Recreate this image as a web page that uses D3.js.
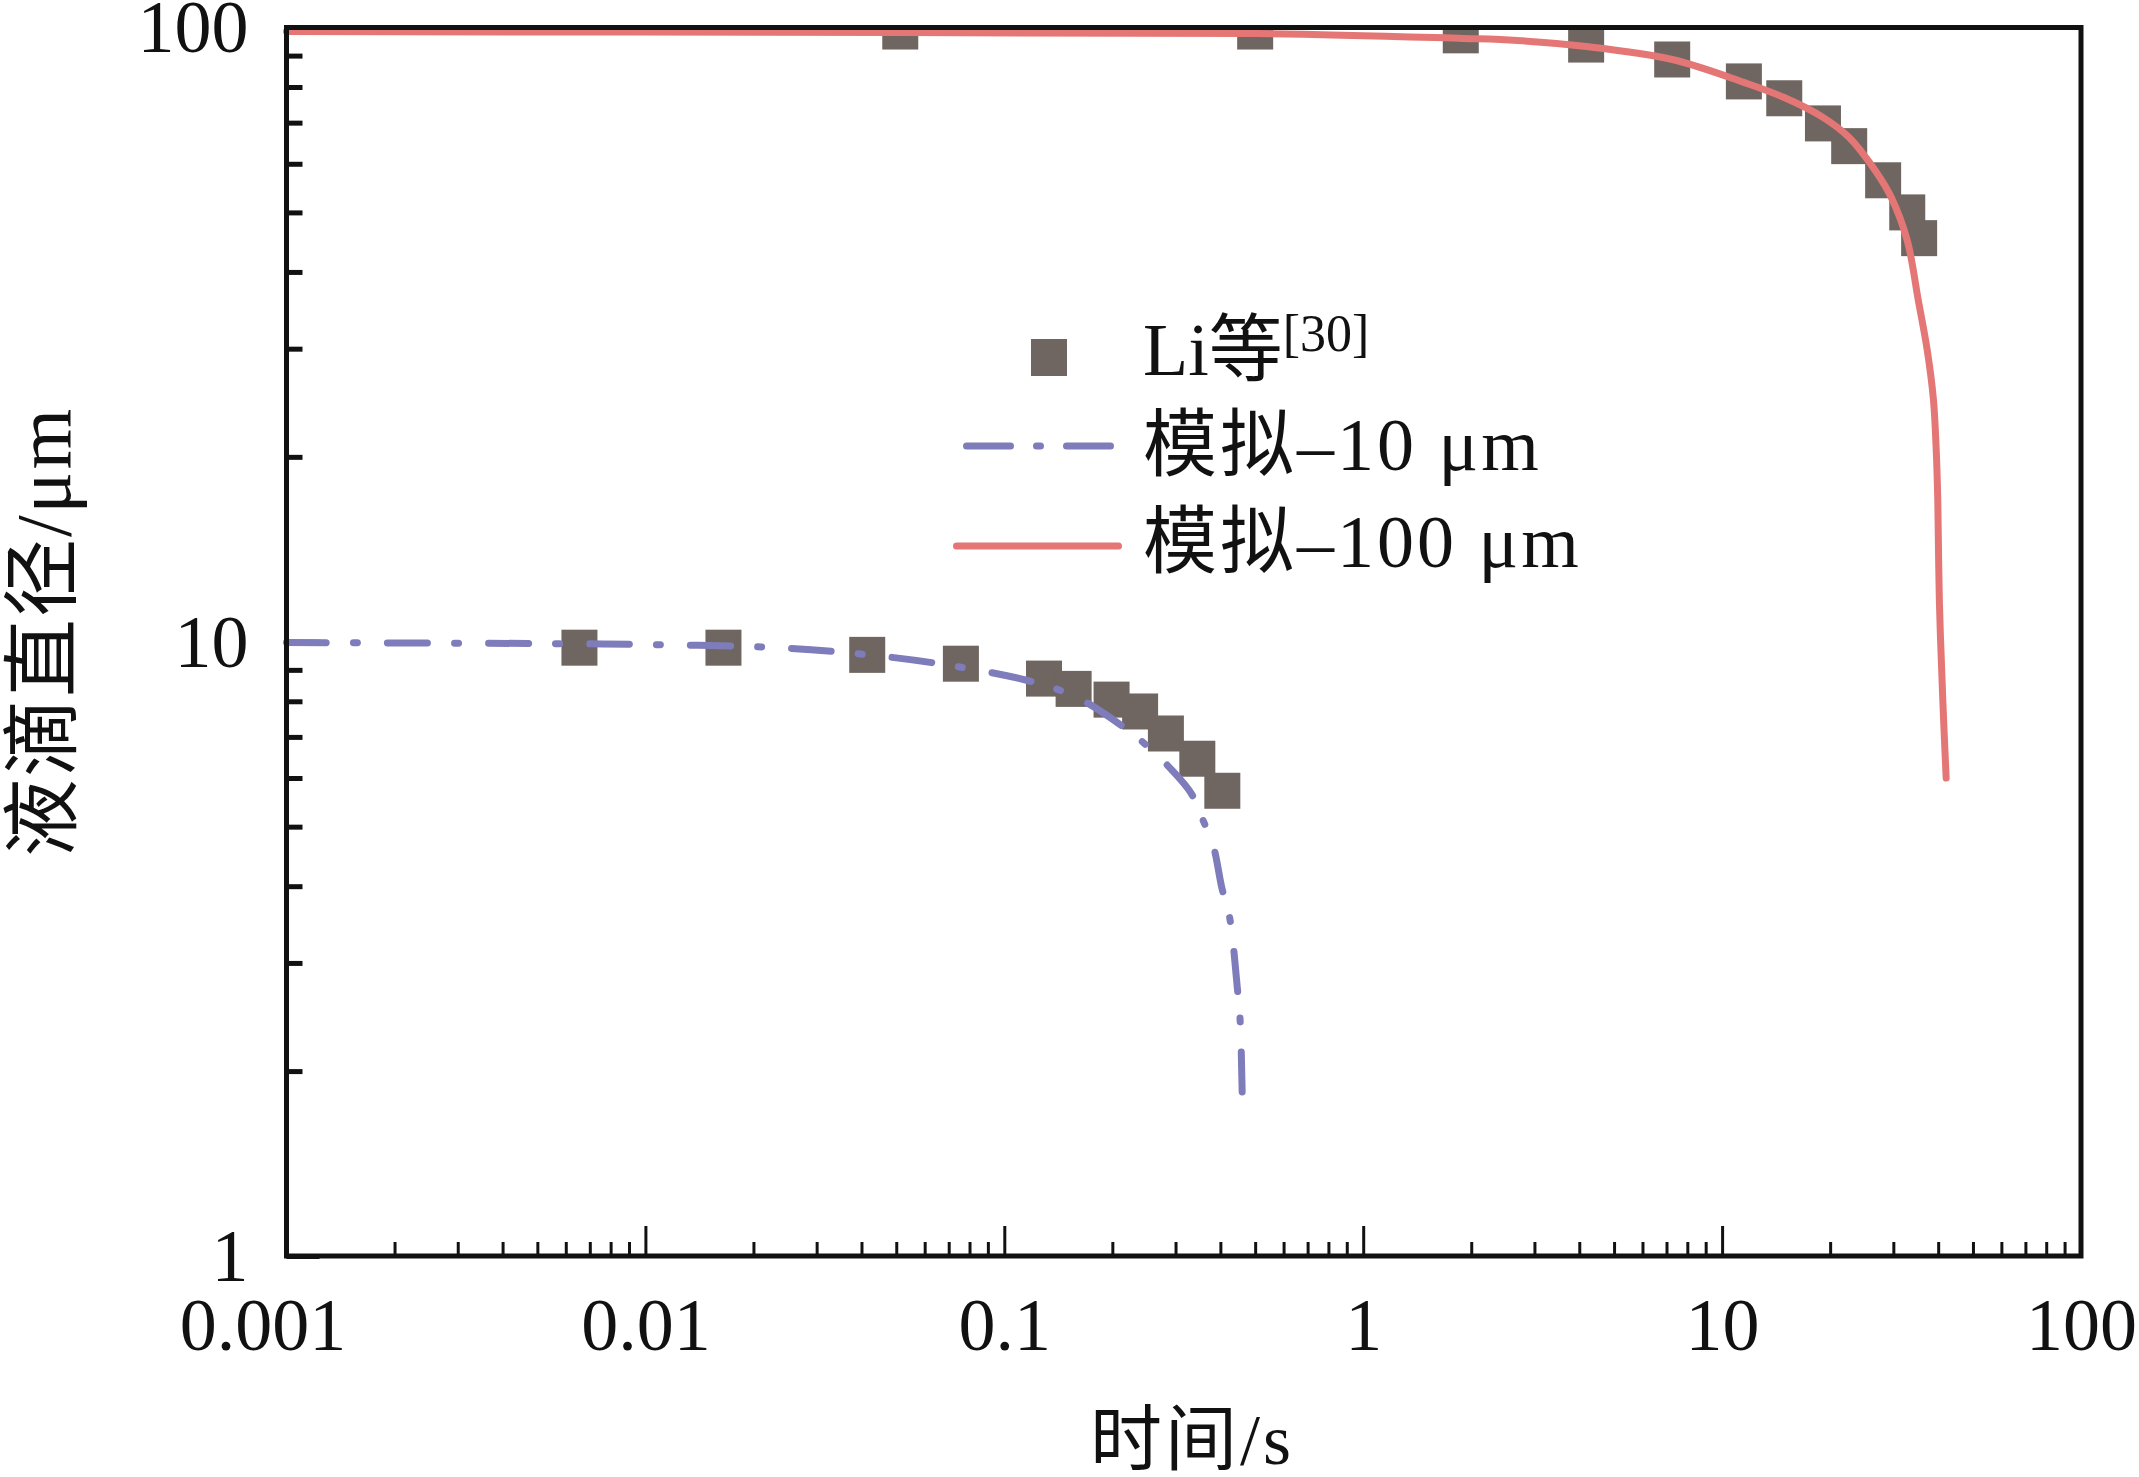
<!DOCTYPE html>
<html>
<head>
<meta charset="utf-8">
<script src="https://cdn.jsdelivr.net/npm/d3@7"></script>
<style>
  body { margin: 0; background: #fff; }
  text { font-family: "Liberation Serif", "Times New Roman", "Noto Sans CJK SC", serif; fill: #111; }
</style>
</head>
<body>
<div id="chart"></div>
<script>
// measured points, Li et al. [30]
var li10T = [0.00655, 0.0165, 0.0415, 0.0757, 0.129, 0.156, 0.199, 0.239, 0.282, 0.345, 0.405]
var li10D = [9.78, 9.78, 9.52, 9.21, 8.71, 8.38, 8.05, 7.70, 7.09, 6.45, 5.72]
var li100T = [0.0513, 0.500, 1.87, 4.18, 7.26, 11.5, 14.9, 19.1, 22.6, 28.1, 32.8, 35.4]
var li100D = [98.5, 98.5, 97.1, 93.8, 88.7, 81.7, 76.7, 69.8, 64.1, 56.4, 50.0, 45.4]

// simulated curves
var sim10T = [0.001, 0.00561, 0.00944, 0.0216, 0.0343, 0.0634, 0.1167, 0.159, 0.216, 0.252, 0.294, 0.332, 0.358, 0.382, 0.404, 0.424, 0.446, 0.454, 0.460]
var sim10D = [9.97, 9.93, 9.90, 9.80, 9.63, 9.24, 8.64, 8.12, 7.25, 6.74, 6.17, 5.66, 5.12, 4.66, 3.97, 3.57, 2.73, 2.42, 1.85]
var sim100T = [0.001, 0.0513, 0.500, 1.90, 2.41, 4.18, 7.26, 11.5, 14.9, 19.1, 22.6, 26.7, 29.6, 32.8, 35.2, 37.3, 38.8, 39.5, 39.9, 40.3, 41.2, 42.1]
var sim100D = [98.5, 98.1, 97.8, 96.0, 95.6, 93.1, 88.7, 81.4, 76.9, 71.4, 66.2, 58.5, 52.9, 45.0, 36.0, 29.8, 24.8, 20.5, 17.0, 11.7, 8.05, 6.0]

// ticks
var xMajor = [0.001, 0.01, 0.1, 1, 10, 100]
var xLabels = ["0.001", "0.01", "0.1", "1", "10", "100"]
var yMajor = [1, 10, 100]
var yLabels = ["1", "10", "100"]
var mantissa = [2, 3, 4, 5, 6, 7, 8, 9]

var legendNames = ["Li等", "模拟\u201310 \u03bcm", "模拟\u2013100 \u03bcm"]

var colLi = "#6f6661", colBlue = "#7e7cba", colRed = "#e57676"

var W = 2139, H = 1477
var pLeft = 286.5, pRight = 2081, pTop = 27.5, pBottom = 1256

var svg = d3.select("#chart").append("svg")
    .attr("width", W)
    .attr("height", H)

var x = d3.scaleLog().domain([0.001, 100]).range([pLeft, pRight])
var y = d3.scaleLog().domain([1, 100]).range([pBottom, pTop])

function zip(a, b) { return a.map(function(v, i) { return {t: v, d: b[i]} }) }

svg.append("clipPath").attr("id", "plotClip")
  .append("rect")
    .attr("x", pLeft).attr("y", pTop)
    .attr("width", pRight - pLeft).attr("height", pBottom - pTop)

// minor ticks
var xMinor = []
xMajor.slice(0, -1).forEach(function(p) { mantissa.forEach(function(m) { xMinor.push(m * p) }) })
var yMinor = []
yMajor.slice(0, -1).forEach(function(p) { mantissa.forEach(function(m) { yMinor.push(m * p) }) })

var gxMinor = svg.append("g")
    .attr("transform", "translate(0," + pBottom + ")")
    .call(d3.axisBottom(x).tickValues(xMinor).tickFormat("").tickSizeInner(-14).tickSizeOuter(0))
gxMinor.select(".domain").remove()
gxMinor.selectAll("line").attr("stroke", "#111").attr("stroke-width", 3)

var gx = svg.append("g")
    .attr("transform", "translate(0," + pBottom + ")")
    .call(d3.axisBottom(x).tickValues(xMajor).tickFormat(function(d, i) { return xLabels[i] }).tickSizeInner(-30).tickSizeOuter(0))
gx.select(".domain").remove()
gx.selectAll("line").attr("stroke", "#111").attr("stroke-width", 3)
gx.selectAll("text")
    .attr("y", 94).attr("dy", 0)
    .attr("dx", function(d) { return d === 0.001 ? -24 : 0 })

var gyMinor = svg.append("g")
    .attr("transform", "translate(" + pLeft + ",0)")
    .call(d3.axisLeft(y).tickValues(yMinor).tickFormat("").tickSizeInner(-16).tickSizeOuter(0))
gyMinor.select(".domain").remove()
gyMinor.selectAll("line").attr("stroke", "#111").attr("stroke-width", 5)

var gy = svg.append("g")
    .attr("transform", "translate(" + pLeft + ",0)")
    .call(d3.axisLeft(y).tickValues(yMajor).tickFormat(function(d, i) { return yLabels[i] }).tickSizeInner(-33).tickSizeOuter(0))
gy.select(".domain").remove()
gy.selectAll("line").attr("stroke", "#111").attr("stroke-width", 5)
gy.selectAll("text")
    .attr("x", -38).attr("dy", "0.33em")

svg.selectAll(".tick text")
    .attr("font-family", null)
    .attr("font-size", null)
    .attr("fill", "#111")
    .style("font-size", "74px")

// measured squares
var pts = zip(li10T, li10D).concat(zip(li100T, li100D))
svg.append("g").attr("clip-path", "url(#plotClip)")
  .selectAll("rect")
  .data(pts)
  .enter().append("rect")
    .attr("x", function(d) { return x(d.t) - 18 })
    .attr("y", function(d) { return y(d.d) - 18 })
    .attr("width", 36)
    .attr("height", 36)
    .attr("fill", colLi)

var line = d3.line()
    .x(function(d) { return x(d.t) })
    .y(function(d) { return y(d.d) })
    .curve(d3.curveCatmullRom.alpha(0.5))

svg.append("path")
    .datum(zip(sim10T, sim10D))
    .attr("d", line)
    .attr("fill", "none")
    .attr("stroke", colBlue)
    .attr("stroke-width", 7)
    .attr("stroke-linecap", "round")
    .attr("stroke-dasharray", "40 27 4 30")

svg.append("path")
    .datum(zip(sim100T, sim100D))
    .attr("d", line)
    .attr("fill", "none")
    .attr("stroke", colRed)
    .attr("stroke-width", 7)
    .attr("stroke-linecap", "round")

// frame
svg.append("rect")
    .attr("x", pLeft).attr("y", pTop)
    .attr("width", pRight - pLeft).attr("height", pBottom - pTop)
    .attr("fill", "none")
    .attr("stroke", "#111")
    .attr("stroke-width", 5)

// legend
var lg = svg.append("g")
lg.append("rect")
    .attr("x", 1031).attr("y", 339).attr("width", 36).attr("height", 37)
    .attr("fill", colLi)
lg.append("line")
    .attr("x1", 966.5).attr("x2", 1111.5).attr("y1", 446).attr("y2", 446)
    .attr("stroke", colBlue).attr("stroke-width", 7).attr("stroke-linecap", "round")
    .attr("stroke-dasharray", "44 26 4 26")
lg.append("line")
    .attr("x1", 956.5).attr("x2", 1118.5).attr("y1", 546).attr("y2", 546)
    .attr("stroke", colRed).attr("stroke-width", 7).attr("stroke-linecap", "round")

var t1 = lg.append("text").attr("x", 1143).attr("y", 375).style("font-size", "74px")
t1.append("tspan").text(legendNames[0])
t1.append("tspan").attr("dy", -24).style("font-size", "52px").text("[30]")
lg.append("text").attr("x", 1143).attr("y", 470).style("font-size", "74px")
    .style("letter-spacing", "3px").text(legendNames[1])
lg.append("text").attr("x", 1143).attr("y", 567).style("font-size", "74px")
    .style("letter-spacing", "3px").text(legendNames[2])

// axis titles
svg.append("text")
    .attr("x", 1192).attr("y", 1464)
    .attr("text-anchor", "middle")
    .style("font-size", "72px")
    .style("letter-spacing", "3px")
    .text("时间/s")

svg.append("text")
    .attr("transform", "rotate(-90)")
    .attr("x", -632).attr("y", 70)
    .attr("text-anchor", "middle")
    .style("font-size", "78px")
    .style("letter-spacing", "2px")
    .text("液滴直径/\u03bcm")
</script>
</body>
</html>
